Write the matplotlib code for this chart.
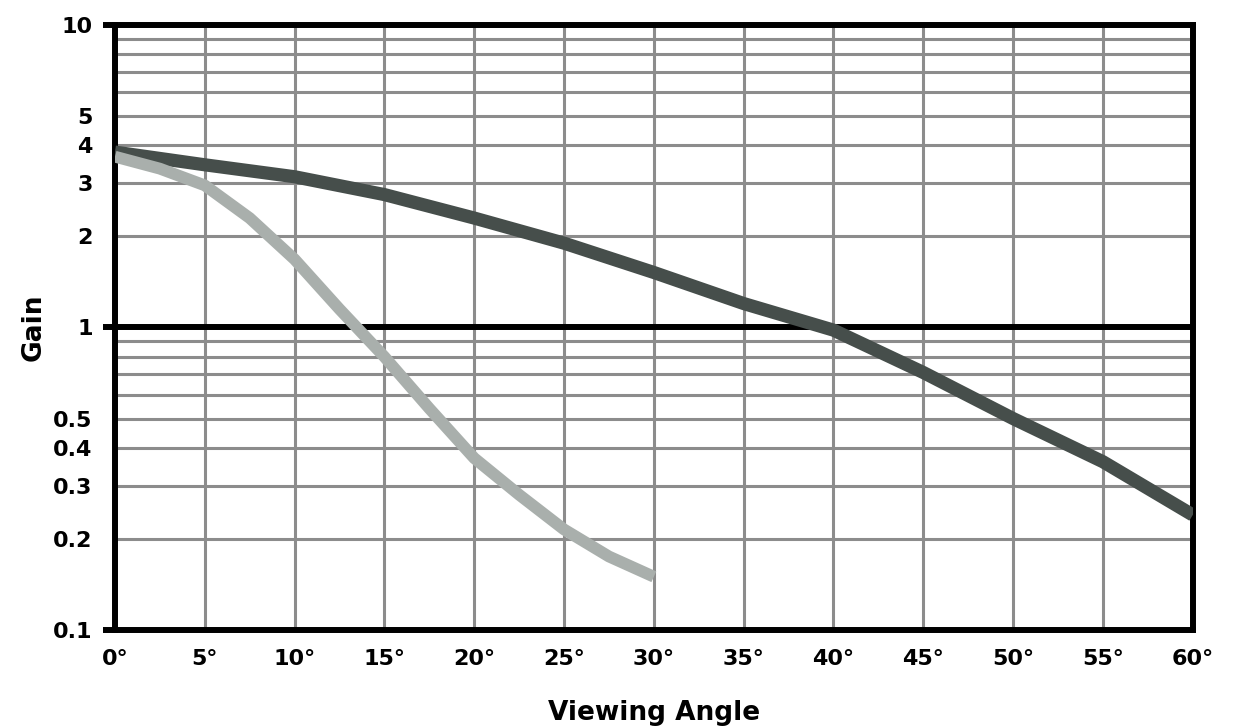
import numpy as np
import matplotlib.pyplot as plt

# viewing angle vs gain, two screens
angle_dark = [0, 5, 10, 15, 20, 25, 30, 35, 40, 45, 50, 55, 60]
gain_dark = [3.8, 3.45, 3.15, 2.75, 2.3, 1.9, 1.52, 1.2, 0.98, 0.71, 0.50, 0.36, 0.24]
angle_light = [0, 2.5, 5, 7.5, 10, 12.5, 15, 17.5, 20, 22.5, 25, 27.5, 30]
gain_light = [3.67, 3.35, 2.95, 2.3, 1.68, 1.15, 0.8, 0.54, 0.37, 0.28, 0.215, 0.175, 0.15]

xticks = list(range(0, 61, 5))
xlabels = [f"{a}°" for a in xticks]
ymajor = [0.1, 1, 10]
yminor_lab = [0.2, 0.3, 0.4, 0.5, 2, 3, 4, 5]
ygrid = [0.2, 0.3, 0.4, 0.5, 0.6, 0.7, 0.8, 0.9, 2, 3, 4, 5, 6, 7, 8, 9]

plt.rcParams['font.family'] = 'DejaVu Sans'
fig = plt.figure(figsize=(12.36, 7.28), dpi=100)
ax = fig.add_axes([0.093, 0.1346, 0.872, 0.8311])

ax.set_yscale('log')
ax.set_xlim(0, 60)
ax.set_ylim(0.1, 10)

# grid
for v in ygrid:
    ax.axhline(v, color='#8c8c8c', lw=2.2, zorder=1)
for a in xticks[1:-1]:
    ax.axvline(a, color='#8c8c8c', lw=2.2, zorder=1)
ax.axhline(1, color='black', lw=4.3, zorder=2)

ax.plot(angle_dark, gain_dark, color='#464e4b', lw=9.5, solid_capstyle='butt',
        solid_joinstyle='round', zorder=3)
ax.plot(angle_light, gain_light, color='#a9afac', lw=8.5, solid_capstyle='butt',
        solid_joinstyle='round', zorder=3)

for s in ax.spines.values():
    s.set_linewidth(4.3)
    s.set_color('black')

ax.set_xticks(xticks)
ax.set_xticklabels(xlabels, fontsize=16, fontweight='bold')
ax.tick_params(axis='x', length=0, pad=14)
ax.set_xticks([0, 60], minor=True)
ax.tick_params(axis='x', which='minor', length=8, width=4.3, direction='out')

ax.yaxis.set_major_locator(plt.FixedLocator(ymajor))
ax.yaxis.set_minor_locator(plt.FixedLocator(yminor_lab))
ax.set_yticklabels(['0.1', '1', '10'])
ax.yaxis.set_minor_formatter(plt.FixedFormatter([str(v) for v in yminor_lab]))
ax.tick_params(axis='y', which='major', length=9, width=4.3, pad=7, labelsize=16)
ax.tick_params(axis='y', which='minor', length=0, pad=16, labelsize=16)
for lab in ax.get_yticklabels(which='both'):
    lab.set_fontweight('bold')

ax.set_xlabel('Viewing Angle', fontsize=19, fontweight='bold', labelpad=22)
ax.set_ylabel('Gain', fontsize=19, fontweight='bold', labelpad=5)

fig.savefig('out.png', dpi=100)
